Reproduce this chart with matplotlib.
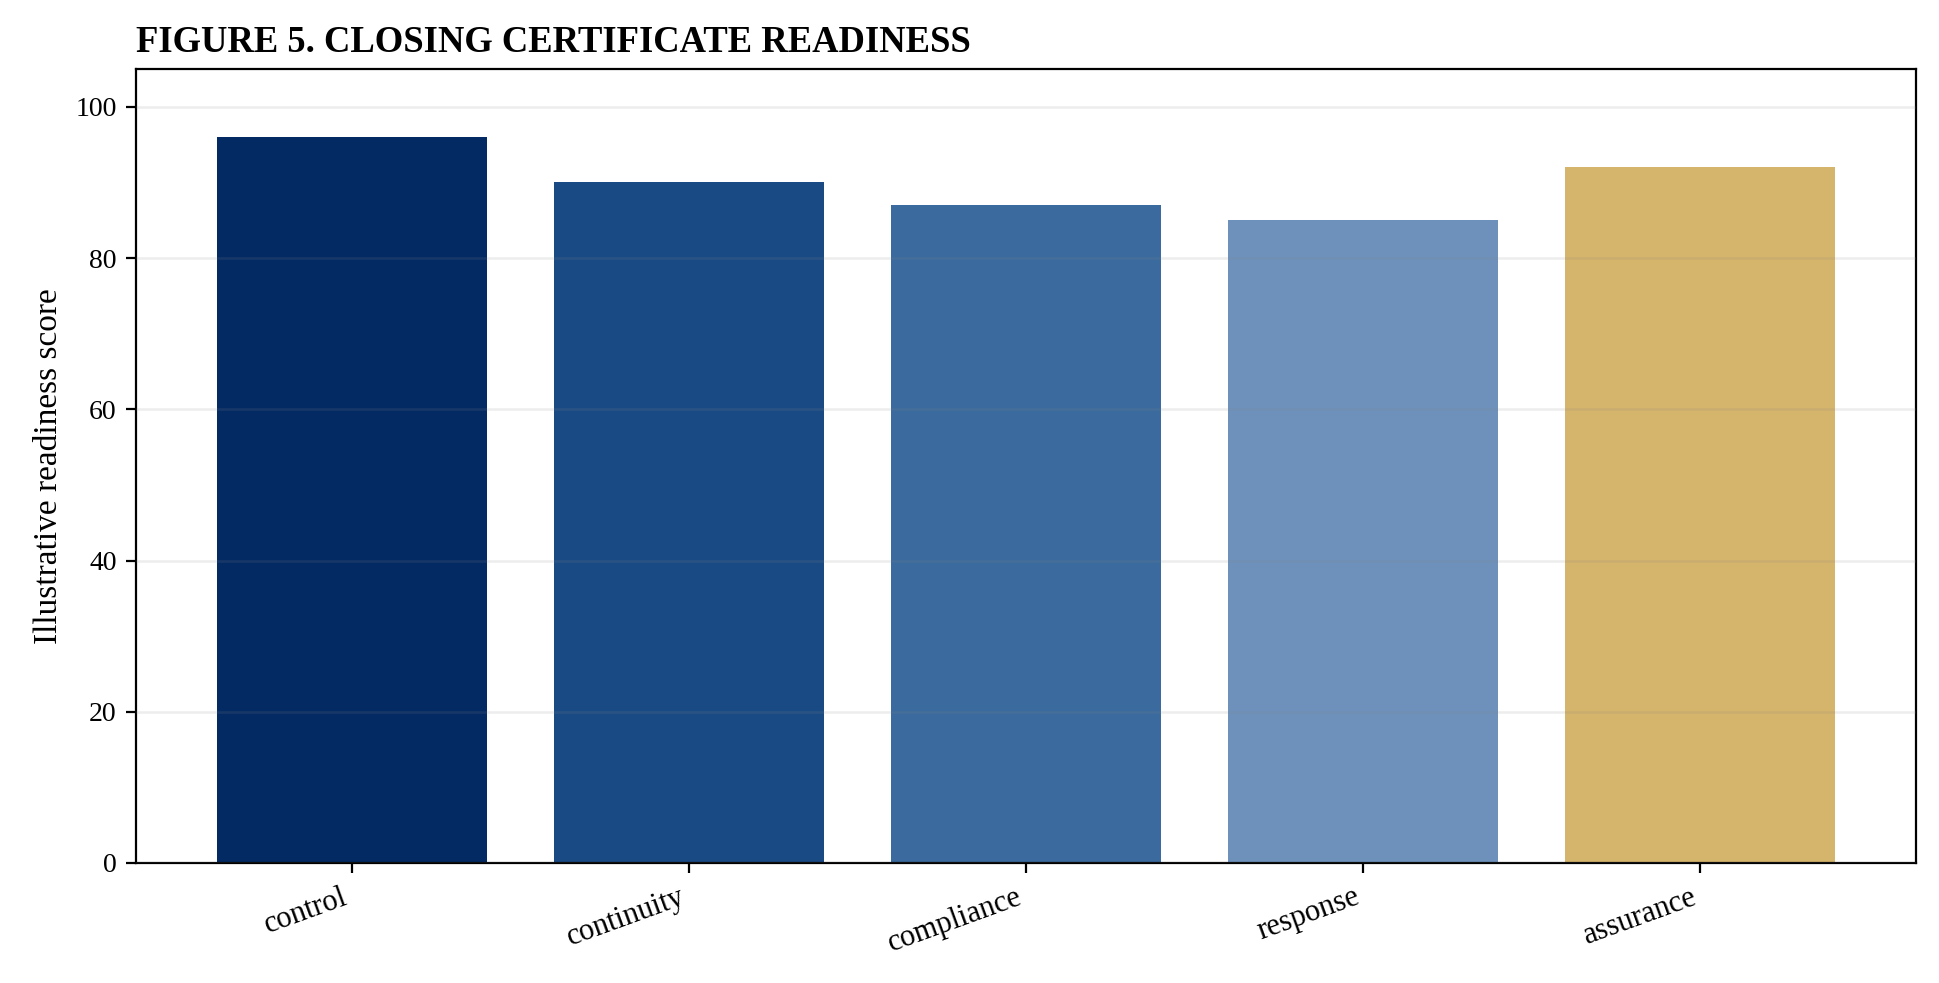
import matplotlib
matplotlib.use("Agg")
import matplotlib.pyplot as plt

categories = ["control", "continuity", "compliance", "response", "assurance"]
scores = [96, 90, 87, 85, 92]
colors = ["#032A63", "#1A4A84", "#3A6A9E", "#6E91BB", "#D5B46B"]

plt.rcParams["font.family"] = ["Liberation Serif", "DejaVu Serif"]

fig = plt.figure(figsize=(9.695, 4.915), dpi=200)
ax = fig.add_axes([136 / 1939, 1 - 863 / 983, (1916 - 136) / 1939, (863 - 69) / 983])

ax.bar(categories, scores, color=colors, width=0.8)
ax.set_ylim(0, 105)
ax.set_ylabel("Illustrative readiness score", fontsize=12)
ax.tick_params(axis="y", labelsize=10)
ax.tick_params(axis="x", labelsize=11)
plt.setp(ax.get_xticklabels(), rotation=20, ha="right")
ax.yaxis.grid(True, color="#888888", alpha=0.15, linewidth=0.9)
ax.set_axisbelow(False)
ax.set_title("FIGURE 5. CLOSING CERTIFICATE READINESS", loc="left",
             fontweight="bold", fontsize=13.2)

fig.savefig("out.png", dpi=200)
